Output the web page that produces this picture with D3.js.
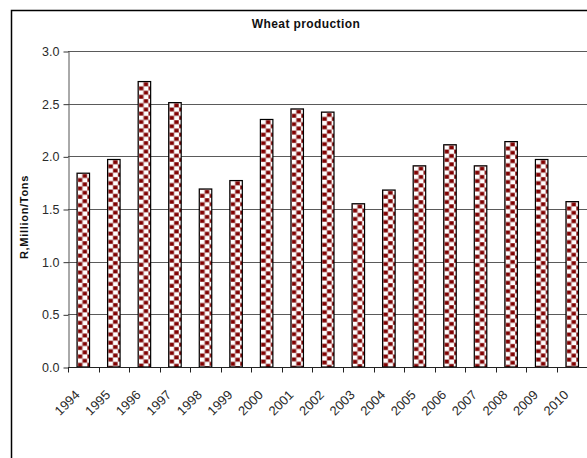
<!DOCTYPE html>
<html>
<head>
<meta charset="utf-8">
<script src="https://cdn.jsdelivr.net/npm/d3@7"></script>
<style>
  html, body { margin: 0; padding: 0; background: #fff; }
  svg { display: block; }
  text { font-family: "Liberation Sans", Arial, sans-serif; }
</style>
</head>
<body>
<script>
// Annual wheat production, million tons
const years = ["1994","1995","1996","1997","1998","1999","2000","2001","2002",
               "2003","2004","2005","2006","2007","2008","2009","2010"];
const production = [1.84, 1.97, 2.71, 2.51, 1.69, 1.77, 2.35, 2.45, 2.42,
                    1.55, 1.68, 1.91, 2.11, 1.91, 2.14, 1.97, 1.57];
const yTicks = [0, 0.5, 1.0, 1.5, 2.0, 2.5, 3.0];

const W = 587, H = 458;
const plot = { left: 68, right: 587.5, top: 51, bottom: 367 };

const svg = d3.select("body").append("svg")
  .attr("width", W).attr("height", H);

// chart frame
svg.append("rect")
  .attr("x", 11.5).attr("y", 10.5)
  .attr("width", 600).attr("height", 470)
  .attr("fill", "#fff").attr("stroke", "#000").attr("stroke-width", 1.5);

// title
svg.append("text")
  .attr("x", 306).attr("y", 28)
  .attr("text-anchor", "middle")
  .attr("font-size", 12).attr("font-weight", "bold")
  .attr("letter-spacing", 0.4)
  .attr("fill", "#111")
  .text("Wheat production");

const x = d3.scaleBand().domain(years).range([plot.left, plot.right]);
const y = d3.scaleLinear().domain([0, 3]).range([plot.bottom, plot.top]);

// horizontal gridlines
svg.append("g").selectAll("line")
  .data(yTicks.filter(d => d > 0))
  .join("line")
  .attr("x1", plot.left).attr("x2", W + 5)
  .attr("y1", d => Math.round(y(d)) + 0.5).attr("y2", d => Math.round(y(d)) + 0.5)
  .attr("stroke", "#5a5a5a").attr("stroke-width", 1);

// y axis
const yAxis = svg.append("g")
  .attr("transform", `translate(${plot.left + 0.5},0.5)`)
  .call(d3.axisLeft(y).tickValues(yTicks).tickFormat(d3.format(".1f"))
        .tickSize(5).tickSizeOuter(0));
yAxis.select(".domain").attr("stroke", "#555");
yAxis.selectAll(".tick line").attr("stroke", "#333");
yAxis.selectAll(".tick text")
  .attr("font-size", 12.5).attr("fill", "#2a2a2a")
  .attr("font-family", "'Liberation Sans', Arial, sans-serif")
  .attr("x", -9);

// y axis title
svg.append("text")
  .attr("transform", `translate(28,${(plot.top + plot.bottom) / 2 + 8}) rotate(-90)`)
  .attr("text-anchor", "middle")
  .attr("font-size", 11).attr("font-weight", "bold")
  .attr("letter-spacing", 0.7)
  .attr("fill", "#111")
  .text("R,Million/Tons");

// checkered fill, one pattern per bar so the squares start at each bar's edge
const barW = 12.5;
const cellW = 4.8, cellH = 4.2;
const defs = svg.append("defs");
const pats = defs.selectAll("pattern")
  .data(years)
  .join("pattern")
  .attr("id", (d, i) => "chk" + i)
  .attr("patternUnits", "userSpaceOnUse")
  .attr("x", d => x(d) + (x.bandwidth() - barW) / 2 + 0.6)
  .attr("y", (d, i) => y(production[i]) + 0.6)
  .attr("width", cellW * 2).attr("height", cellH * 2);
pats.append("rect").attr("width", cellW * 2).attr("height", cellH * 2).attr("fill", "#fff");
pats.append("rect").attr("x", 0).attr("y", cellH).attr("width", cellW).attr("height", cellH)
  .attr("fill", "#800000").attr("stroke", "#c9a0a0").attr("stroke-width", 0.7);
pats.append("rect").attr("x", cellW).attr("y", 0).attr("width", cellW).attr("height", cellH)
  .attr("fill", "#800000").attr("stroke", "#c9a0a0").attr("stroke-width", 0.7);

// bars
svg.append("g").selectAll("rect")
  .data(years)
  .join("rect")
  .attr("x", d => x(d) + (x.bandwidth() - barW) / 2)
  .attr("y", (d, i) => y(production[i]))
  .attr("width", barW)
  .attr("height", (d, i) => y(0) - y(production[i]))
  .attr("fill", (d, i) => `url(#chk${i})`)
  .attr("stroke", "#000").attr("stroke-width", 1.2);

// x axis
const xAxis = svg.append("g")
  .attr("transform", `translate(0,${plot.bottom + 0.5})`);
xAxis.append("line")
  .attr("x1", plot.left).attr("x2", W + 5)
  .attr("stroke", "#222");
xAxis.selectAll("line.tick")
  .data(years.map(d => x(d)).concat([plot.right]))
  .join("line").attr("class", "tick")
  .attr("x1", d => Math.round(d) + 0.5).attr("x2", d => Math.round(d) + 0.5)
  .attr("y1", 0).attr("y2", 5)
  .attr("stroke", "#222");
xAxis.selectAll("text")
  .data(years)
  .join("text")
  .attr("transform", d => `translate(${x(d) + x.bandwidth() / 2 - 6},25) rotate(-45)`)
  .attr("text-anchor", "end")
  .attr("dy", "0.35em")
  .attr("font-size", 13).attr("fill", "#2a2a2a")
  .text(d => d);
</script>
</body>
</html>
